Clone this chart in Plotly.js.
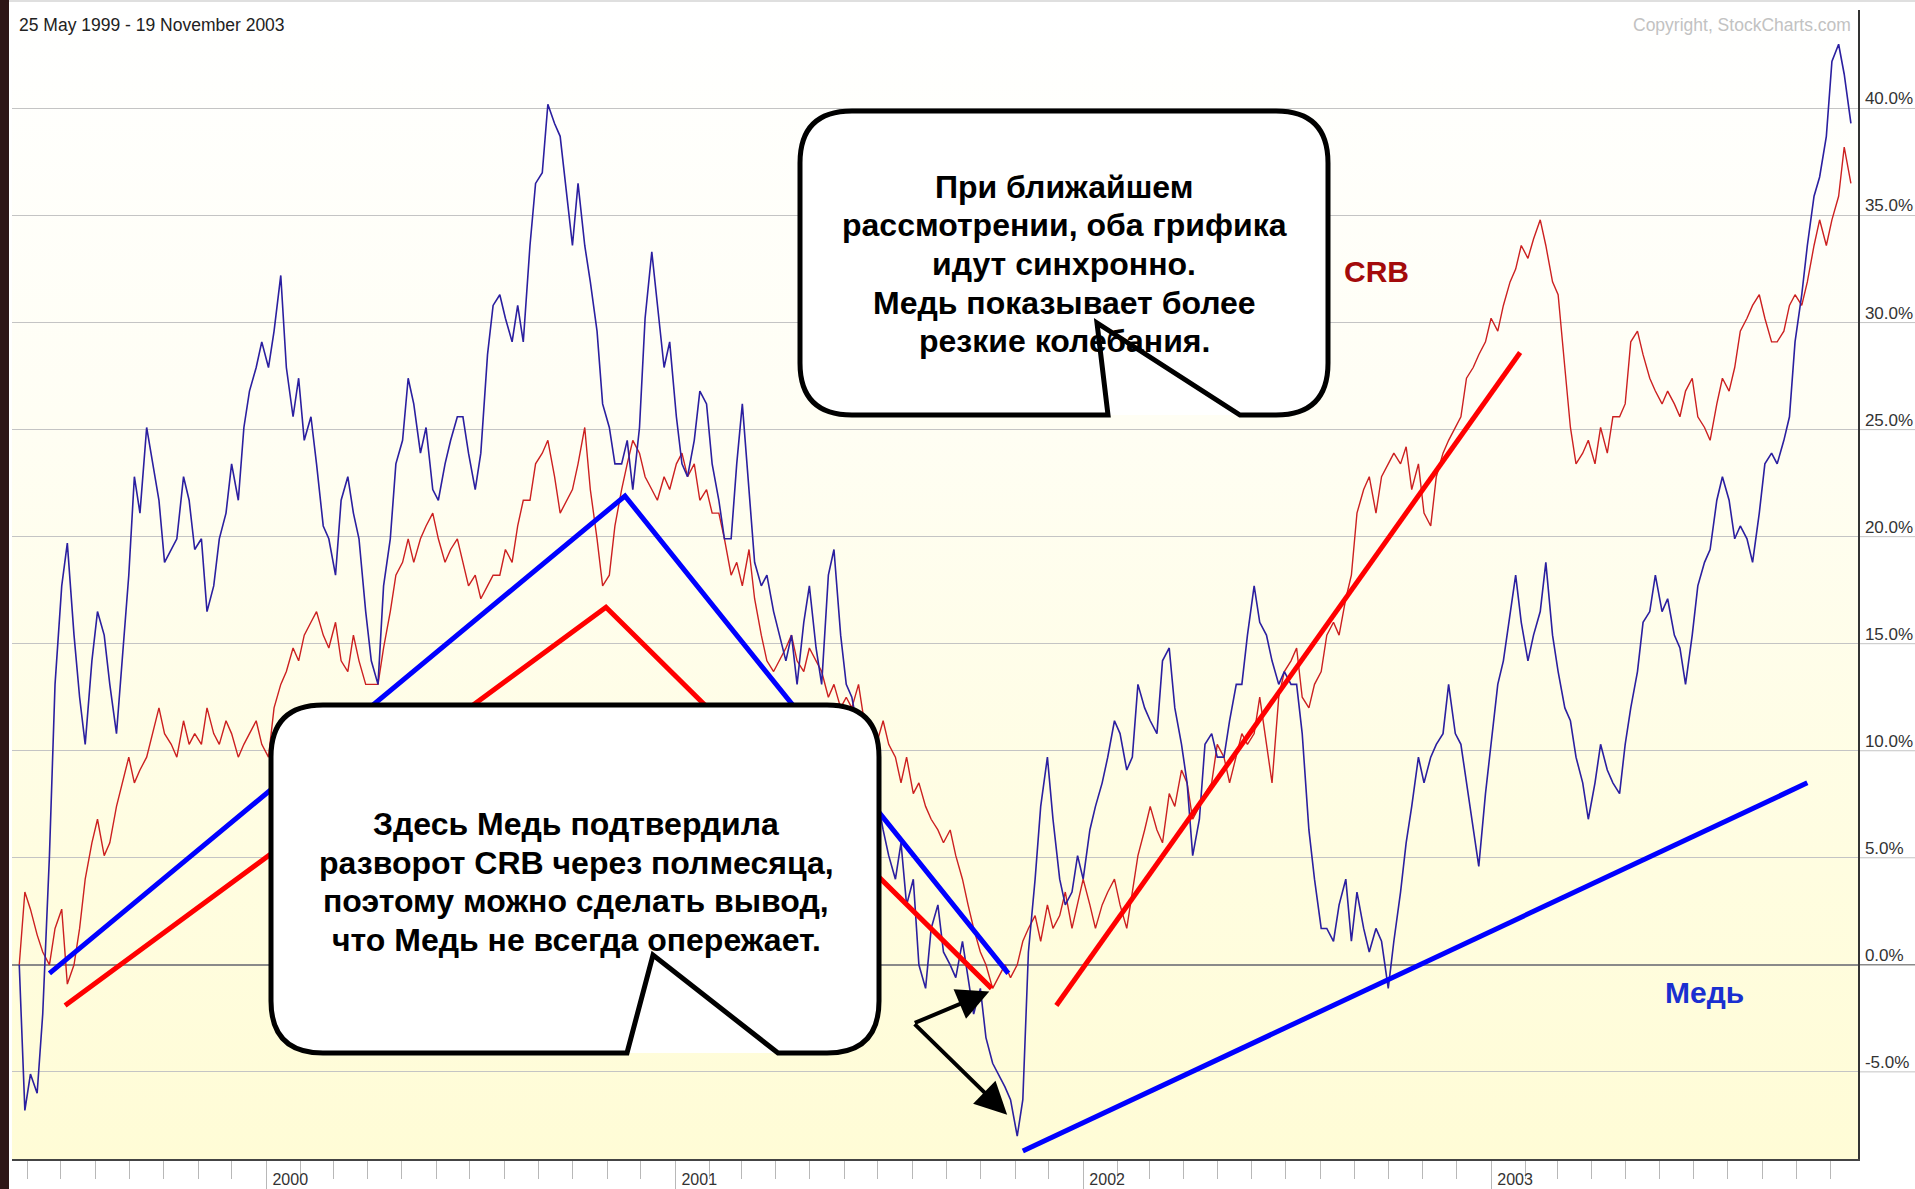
<!DOCTYPE html>
<html>
<head>
<meta charset="utf-8">
<script src="https://cdn.plot.ly/plotly-3.0.1.min.js"></script>
<style>
  html, body { margin: 0; padding: 0; background: #ffffff; }
  #wrap { position: relative; width: 1915px; height: 1189px; overflow: hidden; }
  #bg { position: absolute; left: 12px; top: 10px; width: 1846px; height: 1149px;
        background: linear-gradient(to bottom, #ffffff 0%, #fffef4 35%, #fffde0 75%, #fffcd6 100%); }
  #chart { position: absolute; left: 0; top: 0; width: 1915px; height: 1189px; }
</style>
</head>
<body>
<div id="wrap"><div id="bg"></div><div id="chart"></div></div>
<script>
// ---------------- DATA ----------------
const startDate = '1999-05-25';
const endDate = '2003-11-19';

// Copper (Медь), % change since start, sampled evenly across the period
const copperValues = [
0.0,-6.8,-5.1,-6.0,-2.3,5.1,13.1,17.7,19.7,15.4,12.5,10.3,14.2,16.5,15.4,13.1,10.8,14.2,18.2,22.8,
21.1,25.1,23.6,21.7,18.8,19.4,19.9,22.8,21.7,19.4,19.9,16.5,17.7,19.9,21.1,23.4,21.7,25.1,26.8,27.9,
29.1,27.9,29.6,32.2,27.9,25.6,27.4,24.5,25.6,23.4,20.5,19.9,18.2,21.7,22.8,21.1,19.9,16.5,14.2,13.1,
17.7,19.9,23.4,24.5,27.4,26.2,23.9,25.1,22.2,21.7,23.4,24.5,25.6,25.6,23.9,22.2,23.9,28.5,30.8,31.3,
30.2,29.1,30.8,29.1,33.6,36.5,37.0,40.2,39.3,38.7,35.9,33.6,36.5,33.6,31.9,29.6,26.2,25.1,23.4,23.4,
24.5,22.2,25.1,30.2,33.3,30.8,27.9,29.1,25.6,23.4,22.8,24.5,26.8,26.2,23.4,21.7,19.9,19.9,23.4,26.2,
22.2,18.8,17.7,18.2,16.5,15.4,14.2,15.4,13.1,16.0,17.7,14.8,13.1,18.2,19.4,15.4,13.1,12.5,10.8,8.5,
6.3,8.0,6.3,5.1,4.0,5.7,2.8,4.0,0.0,-1.1,1.7,2.8,0.6,0.0,-0.6,1.1,-0.6,-2.3,-1.1,-3.4,
-4.6,-5.1,-5.7,-6.3,-8.0,-6.3,0.6,4.0,7.4,9.7,6.8,4.0,2.8,3.4,5.1,4.0,6.3,7.4,8.5,9.7,
11.4,10.8,9.1,9.7,13.1,12.0,11.4,10.8,14.2,14.8,12.0,10.3,8.5,5.1,6.8,10.3,10.8,9.7,9.7,11.4,
13.1,13.1,15.4,17.7,16.0,15.4,14.2,13.1,13.7,13.1,13.1,10.8,6.3,4.0,1.7,1.7,1.1,2.8,4.0,1.1,
3.4,1.7,0.6,1.7,1.1,-1.1,1.1,3.4,5.7,7.4,9.7,8.5,9.7,10.3,10.8,13.1,10.8,10.3,8.5,6.3,
4.6,8.0,10.3,13.1,14.2,16.5,18.2,16.0,14.2,15.4,16.5,18.8,15.4,13.7,12.0,11.4,9.7,8.5,6.8,8.5,
10.3,9.1,8.5,8.0,10.3,12.0,13.7,16.0,16.5,18.2,16.5,17.1,15.4,14.8,13.1,15.4,17.7,18.8,19.4,21.7,
22.8,21.7,19.9,20.5,19.9,18.8,21.1,23.4,23.9,23.4,24.5,25.6,29.1,31.3,33.6,35.9,36.8,38.7,42.2,43.0,
41.6,39.3
];

// CRB index, % change since start
const crbValues = [
0.0,3.4,2.6,1.4,0.6,0.0,1.7,2.6,-0.9,0.0,1.7,4.0,5.7,6.8,5.1,5.7,7.4,8.5,9.7,8.5,
9.1,9.7,10.8,12.0,10.8,10.3,9.7,11.4,10.3,10.8,10.3,12.0,10.8,10.3,11.4,10.8,9.7,10.3,10.8,11.4,
10.3,9.7,12.0,13.1,13.7,14.8,14.2,15.4,16.0,16.5,15.4,14.8,16.0,14.2,13.7,15.4,14.2,13.1,13.1,13.1,
14.8,16.5,18.2,18.8,19.9,18.8,19.9,20.5,21.1,19.9,18.8,19.4,19.9,18.8,17.7,18.2,17.1,17.7,18.2,18.2,
19.4,18.8,20.5,21.7,21.7,23.4,23.9,24.5,22.8,21.1,21.7,22.2,23.4,25.1,22.2,19.9,17.7,18.2,20.5,22.2,
23.4,24.5,23.9,22.8,22.2,21.7,22.8,22.2,23.4,23.9,22.8,23.4,21.7,22.2,21.1,21.1,19.9,18.2,18.8,17.7,
19.4,17.1,15.4,14.2,13.7,14.2,14.8,15.4,14.2,13.7,14.8,14.2,13.7,12.5,13.1,12.0,12.5,12.0,13.1,11.4,
10.8,10.3,11.4,10.3,9.7,8.5,9.7,8.0,8.5,7.4,6.8,6.3,5.7,6.3,5.1,4.0,2.8,1.7,0.6,0.0,
-1.1,-0.6,0.0,-0.6,0.0,1.1,1.7,2.3,1.1,2.8,1.7,2.3,3.4,1.7,2.8,4.0,2.8,1.7,2.8,3.4,
4.0,2.8,1.7,3.4,5.1,6.3,7.4,6.3,5.7,8.0,7.4,9.1,8.5,6.8,7.4,8.0,8.5,10.3,9.7,8.5,
9.7,10.8,10.3,10.8,12.5,10.3,8.5,12.5,13.7,14.2,14.8,12.5,12.0,13.1,13.7,15.4,16.0,15.4,17.1,18.2,
21.1,22.2,22.8,21.1,22.8,23.4,23.9,23.4,24.2,22.2,23.4,21.1,20.5,22.8,23.9,24.5,25.1,25.6,27.4,27.9,
28.5,29.1,30.2,29.6,30.8,31.9,32.5,33.6,33.0,33.9,34.8,33.6,31.9,31.3,27.9,25.1,23.4,23.9,24.5,23.4,
25.1,23.9,25.6,25.6,26.2,29.1,29.6,28.5,27.4,26.8,26.2,26.8,26.2,25.6,26.8,27.4,25.6,25.1,24.5,26.2,
27.4,26.8,27.9,29.6,30.2,30.8,31.3,30.2,29.1,29.1,29.6,30.8,31.3,30.8,31.9,33.6,34.8,33.6,34.8,35.9,
38.2,36.5
];

// Hand-drawn trend lines (date, value)
const copperTrend1Dates = ['1999-06-21', '2000-11-17', '2001-10-26'];
const copperTrend1Values = [-0.4, 21.9, -0.4];
const crbTrend1Dates = ['1999-07-05', '2000-10-31', '2001-10-11'];
const crbTrend1Values = [-1.9, 16.7, -1.1];
const crbTrend2Dates = ['2001-12-08', '2003-01-27'];
const crbTrend2Values = [-1.9, 28.6];
const copperTrend2Dates = ['2001-11-08', '2003-10-11'];
const copperTrend2Values = [-8.7, 8.5];

// Arrow tips (date, value)
const arrowTipDates = ['2001-10-09', '2001-10-25'];
const arrowTipValues = [-1.25, -7.0];

// Axis ticks
const yTickValues = [-5, 0, 5, 10, 15, 20, 25, 30, 35, 40];

// Texts
const headerText = '25 May 1999 - 19 November 2003';
const copyrightText = 'Copyright, StockCharts.com';
const topCalloutLines = ['При ближайшем', 'рассмотрении, оба грифика', 'идут синхронно.', 'Медь показывает более', 'резкие колебания.'];
const bottomCalloutLines = ['Здесь Медь подтвердила', 'разворот CRB через полмесяца,', 'поэтому можно сделать вывод,', 'что Медь не всегда опережает.'];
const crbLabel = 'CRB';
const copperLabel = 'Медь';

// ---------------- BUILD ----------------
function sampleDates(n) {
  const t0 = Date.parse(startDate), t1 = Date.parse(endDate);
  const out = [];
  for (let i = 0; i < n; i++) out.push(new Date(t0 + (t1 - t0) * i / (n - 1)).toISOString().slice(0, 10));
  return out;
}
const copperDates = sampleDates(copperValues.length);
const crbDates = sampleDates(crbValues.length);

const W = 1915, H = 1189, ML = 12, MR = 57, MT = 10, MB = 30;
const PW = W - ML - MR, PH = H - MT - MB;
const px = X => (X - ML) / PW;
const py = Y => (H - MB - Y) / PH;

function calloutPath(x0, y0, x1, y1, r, bl, br, tx, ty) {
  const P = (X, Y) => px(X) + ',' + py(Y);
  let d = 'M' + P(x0 + r, y0) + ' L' + P(x1 - r, y0) + ' Q' + P(x1, y0) + ' ' + P(x1, y0 + r) +
    ' L' + P(x1, y1 - r) + ' Q' + P(x1, y1) + ' ' + P(x1 - r, y1);
  if (bl !== null) d += ' L' + P(br, y1) + ' L' + P(tx, ty) + ' L' + P(bl, y1);
  d += ' L' + P(x0 + r, y1) + ' Q' + P(x0, y1) + ' ' + P(x0, y1 - r) +
    ' L' + P(x0, y0 + r) + ' Q' + P(x0, y0) + ' ' + P(x0 + r, y0) + ' Z';
  return d;
}

const boxes = [
  {x0: 800, y0: 111, x1: 1328, y1: 415, r: 52, bl: 1108, br: 1240, tx: 1097, ty: 323,
   lines: topCalloutLines, cx: 1064, ly0: 187, lstep: 38.5},
  {x0: 271, y0: 705, x1: 879, y1: 1053, r: 52, bl: 627, br: 778, tx: 653, ty: 955,
   lines: bottomCalloutLines, cx: 576, ly0: 824, lstep: 38.5}
];

const font = '"Liberation Sans", Arial, sans-serif';
const shapes = [];
const annotations = [];
// extension of gridlines into the label area
yTickValues.forEach(v => {
  shapes.push({type: 'line', xref: 'paper', yref: 'y', x0: 1, x1: px(W), y0: v, y1: v,
    line: {color: v === 0 ? '#8a8a8a' : '#c4c4c4', width: v === 0 ? 1.5 : 1}, layer: 'below'});
});
// top thin rule and left dark strip
shapes.push({type: 'line', xref: 'paper', yref: 'paper', x0: px(9), x1: px(W), y0: py(1), y1: py(1), line: {color: '#d4d4d4', width: 1.5}});
shapes.push({type: 'rect', xref: 'paper', yref: 'paper', x0: px(0), x1: px(9), y0: py(H), y1: py(0), fillcolor: '#2e1616', line: {width: 0}});
boxes.forEach(b => {
  shapes.push({type: 'path', xref: 'paper', yref: 'paper', path: calloutPath(b.x0, b.y0, b.x1, b.y1, b.r, null), fillcolor: '#ffffff', line: {width: 0}});
  shapes.push({type: 'path', xref: 'paper', yref: 'paper', path: calloutPath(b.x0, b.y0, b.x1, b.y1, b.r, b.bl, b.br, b.tx, b.ty), fillcolor: 'rgba(0,0,0,0)', line: {color: '#000000', width: 5}});
  b.lines.forEach((t, i) => {
    annotations.push({xref: 'paper', yref: 'paper', x: px(b.cx), y: py(b.ly0 + i * b.lstep), xanchor: 'center', yanchor: 'middle',
      showarrow: false, text: t, font: {family: font, size: 32, color: '#000000', weight: 'bold'}});
  });
});

annotations.push(
  {xref: 'paper', yref: 'paper', x: px(17), y: py(25), xanchor: 'left', yanchor: 'middle', showarrow: false,
    text: headerText, font: {family: font, size: 17.5, color: '#222222'}},
  {xref: 'paper', yref: 'paper', x: px(1853), y: py(25), xanchor: 'right', yanchor: 'middle', showarrow: false,
    text: copyrightText, font: {family: font, size: 17.5, color: '#c2c2c2'}},
  {xref: 'paper', yref: 'paper', x: px(1376), y: py(271), xanchor: 'center', yanchor: 'middle', showarrow: false,
    text: crbLabel, font: {family: font, size: 30, color: '#a30a0a', weight: 'bold'}},
  {xref: 'paper', yref: 'paper', x: px(1704), y: py(992), xanchor: 'center', yanchor: 'middle', showarrow: false,
    text: copperLabel, font: {family: font, size: 30, color: '#1a2fd0', weight: 'bold'}},
  {x: arrowTipDates[0], y: arrowTipValues[0], xref: 'x', yref: 'y', ax: -76, ay: 32, text: '', showarrow: true,
    arrowhead: 2, arrowsize: 1.6, arrowwidth: 4, arrowcolor: '#000000'},
  {x: arrowTipDates[1], y: arrowTipValues[1], xref: 'x', yref: 'y', ax: -94, ay: -92, text: '', showarrow: true,
    arrowhead: 2, arrowsize: 1.6, arrowwidth: 4, arrowcolor: '#000000'}
);

const traces = [
  {x: crbDates, y: crbValues, type: 'scatter', mode: 'lines', line: {color: '#cc2020', width: 1.4}, name: 'CRB'},
  {x: copperDates, y: copperValues, type: 'scatter', mode: 'lines', line: {color: '#2b1fa0', width: 1.6}, name: 'Медь'},
  {x: copperTrend1Dates, y: copperTrend1Values, type: 'scatter', mode: 'lines', line: {color: '#0000ff', width: 5}},
  {x: crbTrend1Dates, y: crbTrend1Values, type: 'scatter', mode: 'lines', line: {color: '#ff0000', width: 5}},
  {x: crbTrend2Dates, y: crbTrend2Values, type: 'scatter', mode: 'lines', line: {color: '#ff0000', width: 5}},
  {x: copperTrend2Dates, y: copperTrend2Values, type: 'scatter', mode: 'lines', line: {color: '#0000ff', width: 5}}
];

const layout = {
  width: W, height: H,
  margin: {l: ML, r: MR, t: MT, b: MB, pad: 0},
  paper_bgcolor: 'rgba(0,0,0,0)', plot_bgcolor: 'rgba(0,0,0,0)',
  showlegend: false, hovermode: false,
  font: {family: font, color: '#333333'},
  xaxis: {
    type: 'date', range: ['1999-05-18 12:00', '2003-11-25 08:00'],
    tick0: '2000-01-01', dtick: 'M12', tickformat: '%Y',
    ticks: 'outside', ticklen: 30, tickcolor: '#b8b8b8', tickwidth: 1,
    ticklabelshift: 24, ticklabelstandoff: -25,
    tickfont: {family: font, size: 16, color: '#333333'},
    minor: {dtick: 'M1', ticks: 'outside', ticklen: 18, tickcolor: '#b8b8b8', tickwidth: 1, showgrid: false},
    showgrid: false, zeroline: false, showline: true, linecolor: '#444444', linewidth: 2
  },
  yaxis: {
    side: 'right', range: [-9.07, 44.6],
    tickmode: 'array', tickvals: yTickValues, ticktext: yTickValues.map(v => v.toFixed(1) + '%'),
    ticks: '', ticklabelstandoff: 2, ticklabelshift: -10,
    tickfont: {family: font, size: 17, color: '#333333'},
    showgrid: true, gridcolor: '#c4c4c4', gridwidth: 1,
    zeroline: true, zerolinecolor: '#8a8a8a', zerolinewidth: 1.5,
    showline: true, linecolor: '#333333', linewidth: 1.5
  },
  shapes: shapes,
  annotations: annotations
};

Plotly.newPlot('chart', traces, layout, {displayModeBar: false, staticPlot: true});
</script>
</body>
</html>
